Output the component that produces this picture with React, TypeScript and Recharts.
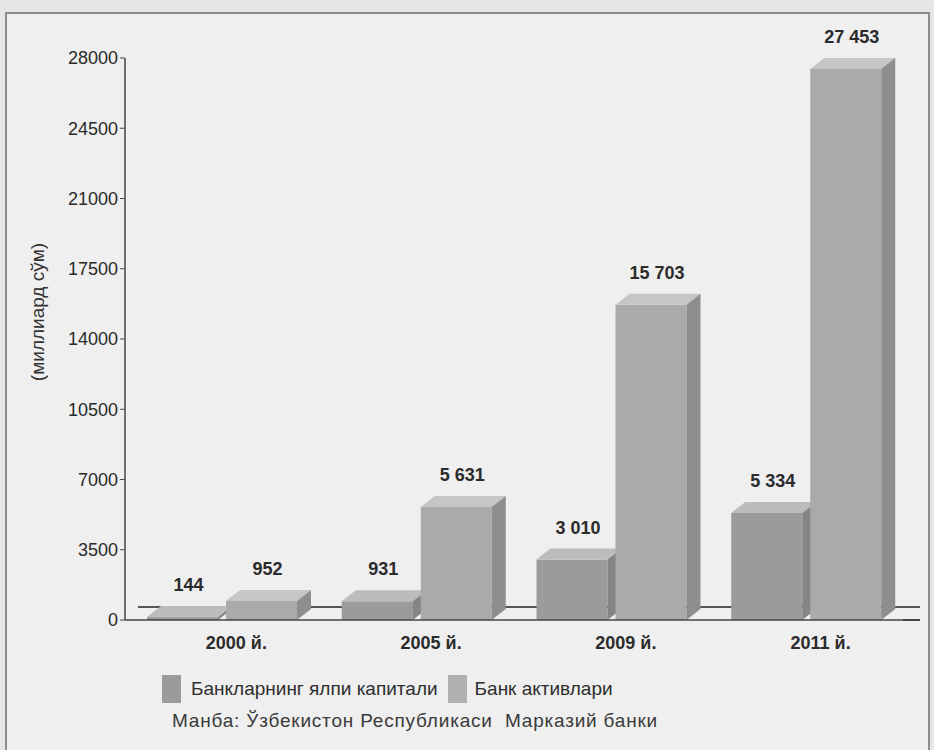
import { Bar, BarChart, LabelList, XAxis, YAxis } from "recharts";

const years = ["2000 й.", "2005 й.", "2009 й.", "2011 й."];
const capital = [144, 931, 3010, 5334];
const assets = [952, 5631, 15703, 27453];
const yTicks = [0, 3500, 7000, 10500, 14000, 17500, 21000, 24500, 28000];

const data = years.map((year, i) => ({ year, capital: capital[i], assets: assets[i] }));

const FONT = "'Liberation Sans', Arial, sans-serif";
const DX = 14;
const DY = 11;

const make3D = (front: string, top: string, side: string) => (props: any) => {
  const { x, y, width, height } = props;
  if (width == null || height == null) return null;
  const h = Math.max(height, 2);
  const yy = y + height - h;
  return (
    <g>
      <rect x={x} y={yy} width={width} height={h} fill={front} />
      <polygon
        points={`${x},${yy} ${x + DX},${yy - DY} ${x + width + DX},${yy - DY} ${x + width},${yy}`}
        fill={top}
      />
      <polygon
        points={`${x + width},${yy} ${x + width + DX},${yy - DY} ${x + width + DX},${yy + h - DY} ${x + width},${yy + h}`}
        fill={side}
      />
    </g>
  );
};

const fmt = (v: number) => String(v).replace(/\B(?=(\d{3})+(?!\d))/g, " ");

const valueLabel = (props: any) => {
  const { x, y, width, value } = props;
  return (
    <text
      x={x + width / 2 + 6}
      y={y - 26}
      textAnchor="middle"
      fontFamily={FONT}
      fontWeight="bold"
      fontSize={18}
      fill="#2b2b2b"
    >
      {fmt(value)}
    </text>
  );
};

export default function App() {
  return (
    <div
      style={{
        position: "absolute",
        left: 0,
        top: 0,
        width: 934,
        height: 750,
        background: "#e6e6e6",
        overflow: "hidden",
      }}
    >
      <div
        style={{
          position: "absolute",
          left: 5,
          top: 12,
          width: 921,
          height: 760,
          border: "2px solid #8c8c8c",
          background: "#efefef",
        }}
      />
      {/* back edge of the 3D floor and the axis run-out */}
      <div style={{ position: "absolute", left: 138, top: 606, width: 782, height: 2, background: "#555" }} />
      <div style={{ position: "absolute", left: 903, top: 619, width: 17, height: 1.5, background: "#444" }} />
      <div
        style={{
          position: "absolute",
          left: 38,
          top: 312,
          transform: "translate(-50%, -50%) rotate(-90deg)",
          fontFamily: FONT,
          fontSize: 19,
          color: "#333",
          whiteSpace: "nowrap",
        }}
      >
        (миллиард сўм)
      </div>
      <BarChart
        width={934}
        height={750}
        data={data}
        margin={{ top: 58, right: 30, left: 20, bottom: 100 }}
        barGap={8}
        barCategoryGap={22}
        style={{ position: "absolute", left: 0, top: 0 }}
      >
        <XAxis
          dataKey="year"
          height={30}
          axisLine={{ stroke: "#444", strokeWidth: 1.5 }}
          tickLine={false}
          tick={{ fontFamily: FONT, fontSize: 18, fontWeight: "bold", fill: "#2b2b2b", dx: 14, dy: 8 }}
        />
        <YAxis
          width={105}
          domain={[0, 28000]}
          ticks={yTicks}
          interval={0}
          axisLine={{ stroke: "#444", strokeWidth: 1.5 }}
          tickLine={{ stroke: "#444" }}
          tickSize={5}
          tick={{ fontFamily: FONT, fontSize: 18, fill: "#2a2a2a" }}
        />
        <Bar dataKey="capital" isAnimationActive={false} shape={make3D("#9b9b9b", "#bcbcbc", "#858585")}>
          <LabelList dataKey="capital" content={valueLabel} />
        </Bar>
        <Bar dataKey="assets" isAnimationActive={false} shape={make3D("#aaaaaa", "#c6c6c6", "#8e8e8e")}>
          <LabelList dataKey="assets" content={valueLabel} />
        </Bar>
      </BarChart>
      <div style={{ position: "absolute", left: 162, top: 674, fontFamily: FONT, color: "#2e2e2e" }}>
        <div style={{ display: "flex", alignItems: "center", fontSize: 19, height: 30 }}>
          <span style={{ width: 19, height: 28, background: "#9b9b9b", marginRight: 10 }} />
          <span style={{ marginRight: 10 }}>Банкларнинг ялпи капитали</span>
          <span style={{ width: 19, height: 28, background: "#b0b0b0", marginRight: 8 }} />
          <span>Банк активлари</span>
        </div>
        <div style={{ fontSize: 19, marginTop: 6, marginLeft: 10, letterSpacing: 0.8, color: "#3a3a3a", whiteSpace: "pre" }}>
          Манба: Ўзбекистон Республикаси  Марказий банки
        </div>
      </div>
    </div>
  );
}
